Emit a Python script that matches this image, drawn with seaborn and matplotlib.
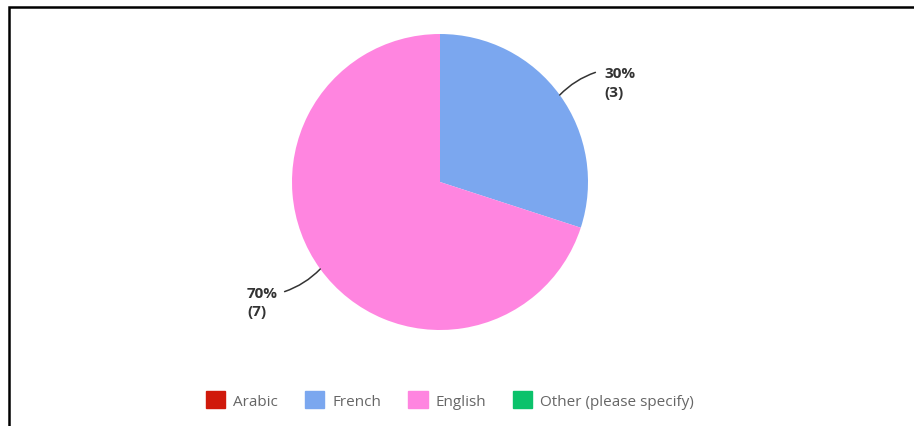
import numpy as np
import seaborn as sns
import matplotlib.pyplot as plt
from matplotlib.patches import Patch, Rectangle

# === Data ===
languages = ["Arabic", "French", "English", "Other (please specify)"]
counts = [0, 3, 7, 0]
colors = ["#d0190b", "#7ba7ef", "#ff85e0", "#0bc26b"]

sns.set_theme(style="white")
plt.rcParams["font.family"] = ["Open Sans", "DejaVu Sans"]

fig = plt.figure(figsize=(9.14, 4.27), dpi=100)
# axes placed so the pie centre sits at (440, 183) px with radius 148 px
ax = fig.add_axes([140 / 914, 1 - 353 / 427, 600 / 914, 340 / 427])

wedges, _ = ax.pie(counts, colors=colors, startangle=90, counterclock=False,
                   radius=1, wedgeprops=dict(linewidth=0), frame=True)
ax.set_xlim(-600 / 296, 600 / 296)
ax.set_ylim(-170 / 148, 170 / 148)
ax.set_aspect("auto")
ax.axis("off")

total = sum(counts)
for w, c in zip(wedges, counts):
    if c == 0:
        continue
    mid = np.deg2rad((w.theta1 + w.theta2) / 2)
    edge = (np.cos(mid), np.sin(mid))
    end = (1.05 * np.sign(np.cos(mid)), 1.26 * np.sin(mid))
    right = end[0] > 0
    ax.annotate("", xy=edge, xytext=end,
                arrowprops=dict(arrowstyle="-", color="#333333", lw=1.1,
                                connectionstyle="arc3,rad=0.12",
                                shrinkA=0, shrinkB=0))
    tx = end[0] + (0.06 if right else -0.045)
    ax.text(tx, end[1] + 0.04, f"{c / total * 100:.0f}%\n({c})",
            ha="left" if right else "right", va="top", multialignment="left",
            fontsize=11, fontweight="bold", color="#333333", linespacing=1.4)

handles = [Patch(facecolor=col, edgecolor=col) for col in colors]
fig.legend(handles, languages, loc="center", bbox_to_anchor=(450 / 914, 1 - 401 / 427),
           ncol=4, frameon=False, fontsize=11, handlelength=1.25, handleheight=1.25,
           handletextpad=0.5, columnspacing=1.8, labelcolor="#666666")

# outer frame (cropped screenshot border)
fig.patches.append(Rectangle((9 / 914, -0.05), 1.1, 1 - 8 / 427 + 0.05,
                             transform=fig.transFigure, fill=False,
                             edgecolor="black", linewidth=1.8, zorder=10))

fig.savefig("out.png", dpi=100)
